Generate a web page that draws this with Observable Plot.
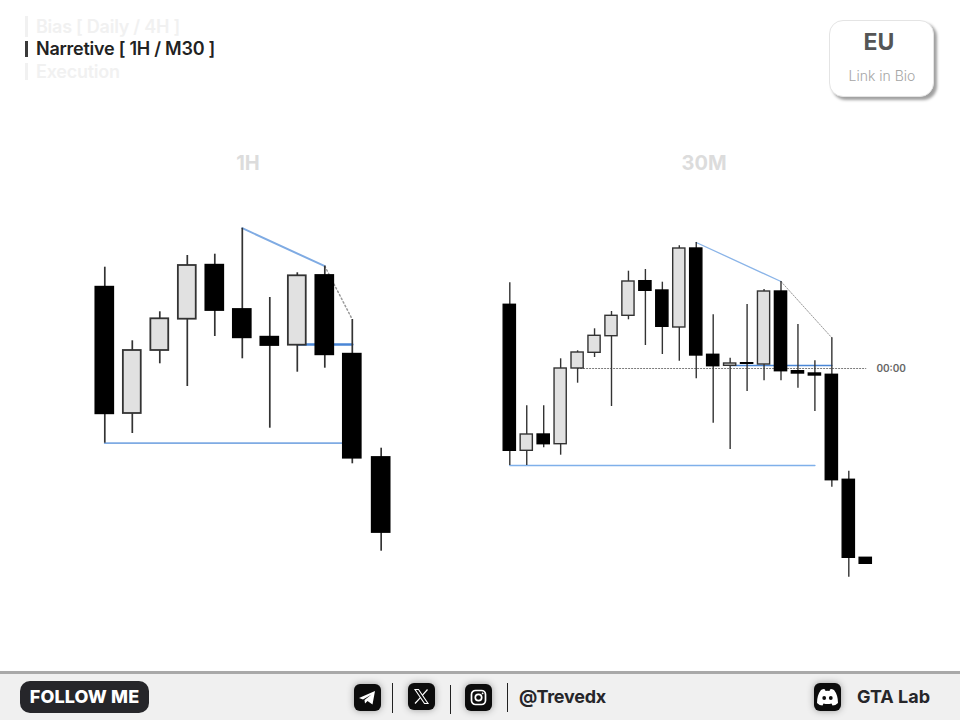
<!DOCTYPE html>
<html>
<head>
<meta charset="utf-8">
<script src="https://cdn.jsdelivr.net/npm/d3@7"></script>
<script src="https://cdn.jsdelivr.net/npm/@observablehq/plot@0.6"></script>
<style>
html,body{margin:0;padding:0;background:#fff;}
#page{position:relative;width:960px;height:720px;overflow:hidden;background:#fff;font-family:Inter,sans-serif;}
.abs{position:absolute;white-space:nowrap;}
.chart{position:absolute;top:140px;}
.chart svg{display:block;background:transparent;}
.step{left:36px;font-size:18px;font-weight:600;line-height:22px;letter-spacing:-0.25px;}
.tick{left:25px;width:3px;}
.ptitle{top:151px;font-size:20px;font-weight:700;color:#dcdcdc;transform:translateX(-50%);line-height:24px;}
#card{left:829px;top:20px;width:103px;height:75px;background:#fff;border:1px solid #e4e4e4;border-radius:14px;box-shadow:3px 3px 3px #a0a0a0;}
#footer{left:0;top:671px;width:960px;height:49px;background:#f0f0f0;border-top:3px solid #a9a9a9;box-sizing:border-box;}
#follow{left:20px;top:681px;width:129px;height:32px;border-radius:10px;background:#26262a;color:#fff;font-weight:800;font-size:18px;line-height:31px;text-align:center;letter-spacing:0.1px;}
.ic{position:absolute;width:27px;height:27px;border-radius:6px;background:#0c0c0c;box-shadow:0 0 7px #999;}
.ic svg{display:block;width:100%;height:100%;}
.sep{position:absolute;width:1px;background:#222;}
.soc{top:686px;font-size:18px;font-weight:700;color:#26262a;line-height:22px;letter-spacing:-0.25px;}
</style>
</head>
<body>
<div id="page">
  <div class="abs tick" style="top:16px;height:21px;background:#f1f1f1"></div>
  <div class="abs tick" style="top:41px;height:16px;background:#3a3a3a"></div>
  <div class="abs tick" style="top:63px;height:17px;background:#f1f1f1"></div>
  <div class="abs step" style="top:16px;color:#f1f1f1">Bias [ Daily / 4H ]</div>
  <div class="abs step" style="top:38px;color:#222">Narretive [ 1H / M30 ]</div>
  <div class="abs step" style="top:61px;color:#f1f1f1">Execution</div>

  <div class="abs" id="card"></div>
  <div class="abs" style="left:879px;top:28px;transform:translateX(-50%);font-size:23px;font-weight:700;color:#555;line-height:28px">EU</div>
  <div class="abs" style="left:882px;top:66px;transform:translateX(-50%);font-size:14px;font-weight:300;color:#a6a6a6;line-height:20px">Link in Bio</div>

  <div class="abs ptitle" style="left:248px">1H</div>
  <div class="abs ptitle" style="left:704px">30M</div>

  <div class="chart" id="left" style="left:0"></div>
  <div class="chart" id="right" style="left:480px"></div>

  <div class="abs" id="footer"></div>
  <div class="abs" id="follow">FOLLOW ME</div>

  <div class="ic" style="left:354px;top:684px"><svg viewBox="0 0 27 27"><path d="M5 14 L21 7 L18.5 20.5 L13.5 17 L11 19.5 L10.5 16 L17.5 10.5 L9 15.5 Z" fill="#fff"/></svg></div>
  <div class="sep" style="left:392px;top:683px;height:30px"></div>
  <div class="ic" style="left:408px;top:683px"><svg viewBox="0 0 27 27"><path d="M7 6.5 L10.5 6.5 L20 20.5 L16.5 20.5 Z" fill="none" stroke="#fff" stroke-width="1.1"/><path d="M19.5 6.5 L14.3 12.4 M12.4 14.7 L7 20.5" stroke="#fff" stroke-width="1.2"/></svg></div>
  <div class="sep" style="left:450px;top:685px;height:29px"></div>
  <div class="ic" style="left:465px;top:684px"><svg viewBox="0 0 27 27"><rect x="6.5" y="6.5" width="14" height="14" rx="4" fill="none" stroke="#fff" stroke-width="1.7"/><circle cx="13.5" cy="13.5" r="3.2" fill="none" stroke="#fff" stroke-width="1.7"/><circle cx="17.6" cy="9.4" r="0.9" fill="#fff"/></svg></div>
  <div class="sep" style="left:507px;top:683px;height:29px"></div>
  <div class="abs soc" style="left:519px">@Trevedx</div>
  <div class="ic" style="left:814px;top:683px;height:28px"><svg viewBox="0 0 27 28"><path d="M7 7 Q10 5.500 11 6.500 L11.500 8 Q13.500 7.600 15.500 8 L16 6.500 Q17 5.500 20 7 Q24 12 24 20 Q21.500 22.500 18.500 22.500 L17.500 20.500 Q13.500 21.500 9.500 20.500 L8.500 22.500 Q5.500 22.500 3 20 Q3 12 7 7 Z" fill="#fff"/><circle cx="10.200" cy="15" r="1.900" fill="#0c0c0c"/><circle cx="16.800" cy="15" r="1.900" fill="#0c0c0c"/></svg></div>
  <div class="abs soc" style="left:857px;letter-spacing:0">GTA Lab</div>
</div>
<script>
// 1H candles (price units, one candle per index)
const h1Index = [0,1,2,3,4,5,6,7,8,9,10.05];
const h1Open  = [313.3,187,250,281.3,335.3,291,263.3,255.3,325,246.3,143];
const h1Close = [186.7,250,281.7,335,290,262.7,255,324.7,245.7,142.3,68];
const h1High  = [333.3,259.7,288.7,345,346.3,372.3,303,327.7,334.3,281,152.3];
const h1Low   = [157.3,167,236.7,214,264,241.7,172.3,228.3,232.3,136.7,49.3];

// 30M candles
const m30Index = d3.range(22);
const m30Open  = [295.7,149.7,166,156.3,232,247.7,264.3,284.7,319.3,310,273,352,245.7,234.7,237.3,236,309,229.3,227,225.7,120.7,42.7];
const m30Close = [149.7,166,156.3,232,248,264.7,284.7,319,309.7,273.7,352,245,234.3,237,236.7,309,229.3,227,225,120.3,42.7,36.7];
const m30High  = [317.7,194.7,194.7,241.7,249.7,271.7,289,329.3,331,318.3,354.7,358,285.7,242.3,296,311,319,276,239.7,262.7,129.3,42.7];
const m30Low   = [135,135,152.7,145.3,217.3,243,194,280.7,255,246,239.3,221.7,177.3,151,209,219.7,219.7,212.3,189,113.3,23.3,36.7];

// Drawn levels: [x, price] pairs
const h1Trend   = [[5,372.3],[8,334.3]];
const h1Fade    = [[8,334.3],[9,281]];
const h1Neck    = [[7,256],[9,256]];
const h1Base    = [[0,157.3],[9,157.3]];
const m30Trend  = [[11,358],[16,319]];
const m30Fade   = [[16,319],[19,262.7]];
const m30Neck   = [[13,235],[19,235]];
const m30Base   = [[0,135],[18,135]];
const m30Open00 = [[4,232],[21,232]];
const m30Label  = "00:00";

const table = (idx,o,c,h,l) => idx.map((x,i)=>({x,open:o[i],close:c[i],high:h[i],low:l[i],up:c[i]>o[i]}));
const bg = d => d.up ? "#e1e1e1" : "#000";

function chart({rows,half,xDomain,width,wick,bodyStroke,marksBefore,marksAfter}){
  return Plot.plot({
    width, height:450, margin:0,
    x:{domain:xDomain,range:[0,width],axis:null},
    y:{domain:[10,460],range:[450,0],axis:null},
    marks:[
      ...marksBefore,
      Plot.ruleX(rows,{x:"x",y1:"low",y2:"high",stroke:"#333",strokeWidth:wick}),
      Plot.rect(rows,{x1:d=>d.x-half,x2:d=>d.x+half,y1:"open",y2:"close",fill:bg,stroke:d=>d.up?"#333":"#000",strokeWidth:bodyStroke,inset:0}),
      ...marksAfter
    ]
  });
}
const seg = (pts,o) => Plot.line(pts,{x:d=>d[0],y:d=>d[1],...o});

const leftRows = table(h1Index,h1Open,h1Close,h1High,h1Low);
document.getElementById("left").append(chart({
  rows:leftRows, half:0.325, width:480, wick:1.7, bodyStroke:1.8,
  xDomain:[-104.3/27.5, (480-104.3)/27.5],
  marksBefore:[
    seg(h1Trend,{stroke:"#7fabe3",strokeWidth:2}),
    seg(h1Fade,{stroke:"#999",strokeWidth:1.5,strokeDasharray:"1.5 2.5"}),
    seg(h1Neck,{stroke:"#4a86d6",strokeWidth:2.4}),
    seg(h1Base,{stroke:"#7fabe3",strokeWidth:1.8})
  ],
  marksAfter:[]
}));

const rightRows = table(m30Index,m30Open,m30Close,m30High,m30Low);
document.getElementById("right").append(chart({
  rows:rightRows, half:0.36, width:480, wick:1.4, bodyStroke:1.4,
  xDomain:[(480-509.3)/16.95, (960-509.3)/16.95],
  marksBefore:[
    seg(m30Open00,{stroke:"#777",strokeWidth:1.2,strokeDasharray:"1 2"}),
    seg(m30Trend,{stroke:"#8ab4e8",strokeWidth:1.3}),
    seg(m30Fade,{stroke:"#999",strokeWidth:1,strokeDasharray:"1.5 1.5"}),
    seg(m30Neck,{stroke:"#4a86d6",strokeWidth:1.6}),
    seg(m30Base,{stroke:"#7fb0ea",strokeWidth:1.5})
  ],
  marksAfter:[
    Plot.text([m30Label],{x:22.5,y:m30Open00[0][1],text:d=>d,fontSize:10,fontWeight:600,letterSpacing:-0.2,fill:"#666",fontFamily:"Inter, sans-serif"})
  ]
}));
</script>
</body>
</html>
